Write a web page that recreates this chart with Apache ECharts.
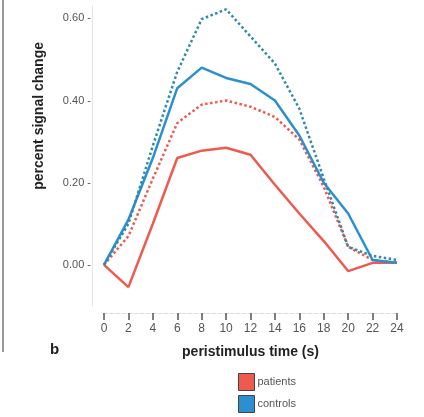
<!DOCTYPE html>
<html>
<head>
<meta charset="utf-8">
<script src="https://cdn.jsdelivr.net/npm/echarts@6/dist/echarts.min.js"></script>
<style>
  html, body { margin: 0; padding: 0; background: #fff; }
  #chart { width: 424px; height: 417px; }
</style>
</head>
<body>
<div id="chart"></div>
<script>
// peristimulus time (s)
const times = [0, 2, 4, 6, 8, 10, 12, 14, 16, 18, 20, 22, 24]
// percent signal change
const patientsSolid = [0, -0.054, 0.10, 0.26, 0.278, 0.285, 0.268, 0.195, 0.125, 0.058, -0.015, 0.005, 0.005]
const patientsDotted = [0, 0.07, 0.21, 0.345, 0.39, 0.40, 0.385, 0.36, 0.305, 0.19, 0.044, 0.012, 0.005]
const controlsSolid = [0, 0.11, 0.26, 0.43, 0.48, 0.455, 0.44, 0.40, 0.315, 0.20, 0.125, 0.012, 0.005]
const controlsDotted = [0, 0.10, 0.29, 0.47, 0.598, 0.622, 0.556, 0.49, 0.38, 0.21, 0.044, 0.022, 0.012]
const yTicks = [0, 0.2, 0.4, 0.6]

const red = '#ee5a4e'
const blue = '#2b8fd0'
const blueDot = '#2f8aaa'

function pairs (ys) {
  return times.map((t, i) => [t, ys[i]])
}

const chart = echarts.init(document.getElementById('chart'))
const option = {
  backgroundColor: '#fff',
  animation: false,
  grid: {
    left: 104,
    right: 27,
    top: 6,
    bottom: 111
  },
  xAxis: {
    type: 'value',
    min: 0,
    max: 24,
    interval: 2,
    offset: 7,
    name: 'peristimulus time (s)',
    nameLocation: 'middle',
    nameGap: 32,
    nameTextStyle: {
      fontFamily: 'Liberation Sans',
      fontWeight: 'bold',
      fontSize: 14,
      color: '#222'
    },
    axisLine: {
      show: true,
      onZero: false,
      lineStyle: { color: '#ddd', type: 'dashed', width: 1 }
    },
    axisTick: {
      show: true,
      inside: false,
      length: 7,
      lineStyle: { color: '#555', width: 1.5 }
    },
    axisLabel: {
      margin: 10,
      fontFamily: 'Liberation Sans',
      fontSize: 12,
      color: '#555'
    },
    splitLine: { show: false }
  },
  yAxis: {
    type: 'value',
    min: -0.1,
    max: 0.63,
    interval: 0.1,
    offset: 12,
    axisLine: {
      show: true,
      onZero: false,
      lineStyle: { color: '#e4e4e4', width: 1 }
    },
    axisTick: { show: false },
    axisLabel: {
      margin: 1,
      fontFamily: 'Liberation Sans',
      fontSize: 11,
      color: '#555',
      showMaxLabel: false,
      formatter: function (v) {
        const hit = yTicks.find(t => Math.abs(t - v) < 1e-6)
        return hit === undefined ? '' : hit.toFixed(2) + ' -'
      }
    },
    splitLine: { show: false }
  },
  legend: {
    orient: 'vertical',
    left: 238,
    top: 373,
    padding: 0,
    icon: 'rect',
    itemWidth: 16,
    itemHeight: 17,
    itemGap: 4,
    itemStyle: { borderColor: '#444', borderWidth: 1 },
    textStyle: {
      fontFamily: 'Liberation Sans',
      fontSize: 11,
      color: '#555',
      padding: [0, 0, 0, -2]
    },
    data: ['patients', 'controls']
  },
  graphic: [
    {
      type: 'text',
      left: 32,
      top: 42,
      rotation: Math.PI / 2,
      style: {
        text: 'percent signal change',
        fontFamily: 'Liberation Sans',
        fontWeight: 'bold',
        fontSize: 14,
        fill: '#222'
      }
    },
    {
      type: 'text',
      left: 50,
      top: 342,
      style: {
        text: 'b',
        fontFamily: 'Liberation Sans',
        fontWeight: 'bold',
        fontSize: 15,
        fill: '#222'
      }
    },
    {
      type: 'line',
      shape: { x1: 3, y1: 0, x2: 3, y2: 352 },
      style: { stroke: '#999', lineWidth: 2 }
    }
  ],
  series: [
    {
      name: 'patients',
      type: 'line',
      clip: false,
      symbol: 'none',
      color: red,
      lineStyle: { color: red, width: 2.5 },
      data: pairs(patientsSolid)
    },
    {
      name: 'patients',
      type: 'line',
      clip: false,
      symbol: 'none',
      color: red,
      lineStyle: { color: red, width: 2.5, type: 'dotted' },
      data: pairs(patientsDotted)
    },
    {
      name: 'controls',
      type: 'line',
      clip: false,
      symbol: 'none',
      color: blue,
      lineStyle: { color: blue, width: 2.5 },
      data: pairs(controlsSolid)
    },
    {
      name: 'controls',
      type: 'line',
      clip: false,
      symbol: 'none',
      color: blue,
      lineStyle: { color: blueDot, width: 2.5, type: 'dotted' },
      data: pairs(controlsDotted)
    }
  ]
}
chart.setOption(option)
</script>
</body>
</html>
